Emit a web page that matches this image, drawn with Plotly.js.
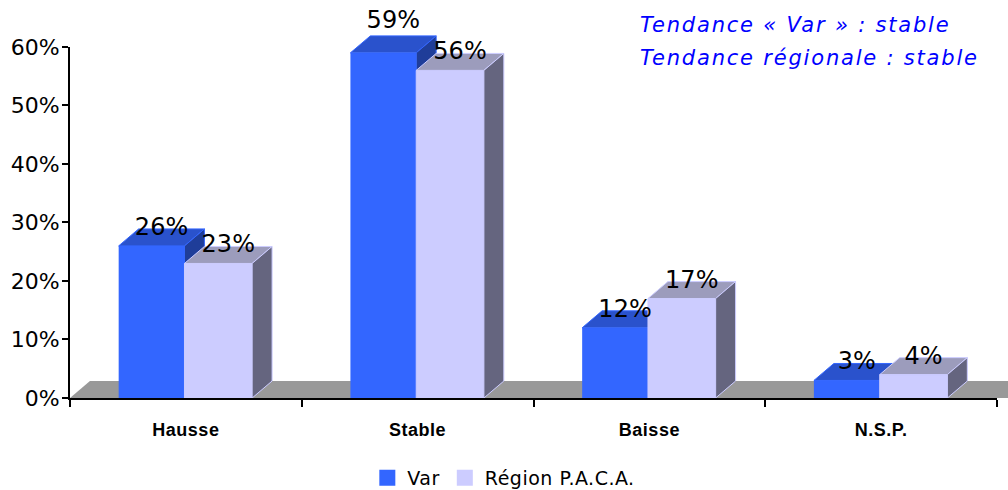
<!DOCTYPE html>
<html>
<head>
<meta charset="utf-8">
<script src="https://cdn.plot.ly/plotly-3.0.1.min.js"></script>
<style>
  html, body { margin: 0; padding: 0; background: #ffffff; }
  #chart { width: 1008px; height: 490px; }
  .annotation-text { letter-spacing: 1.8px; }
  .legendtext { letter-spacing: 0.5px; }
  .xtick text, text.xtick { letter-spacing: 0.5px; }
</style>
</head>
<body>
<div id="chart"></div>
<script>
// ---- data ----
const categories = ['Hausse', 'Stable', 'Baisse', 'N.S.P.'];
const varValues = [26, 59, 12, 3];
const regionValues = [23, 56, 17, 4];
const seriesNames = ['Var', 'Région P.A.C.A.'];
const yTickValues = [0, 10, 20, 30, 40, 50, 60];
const yTickLabels = ['0%', '10%', '20%', '30%', '40%', '50%', '60%'];
const titleLines = ['Tendance « Var » : stable', 'Tendance régionale : stable'];

// ---- style / geometry constants ----
const DX = 0.086;     // depth offset along x (category units)
const DY = 2.9;       // depth offset along y (value units)
const VAR_OFF = -0.29, VAR_W = 0.284;
const REG_OFF = -0.006, REG_W = 0.292;
const X_MAX = 3.5475;
const Y_MAX = 65.64;
const AXIS_TOP = 60;
const VAR_LABEL_NUDGE = [0, 2.4, 0, 0];   // label placement tweak (value units)

const catPos = categories.map((c, i) => i);

function faces(values, off, w) {
  const top = {x: [], y: []}, side = {x: [], y: []};
  values.forEach((v, i) => {
    const x0 = catPos[i] + off, x1 = x0 + w;
    top.x.push(x0, x0 + DX, x1 + DX, x1, x0, null);
    top.y.push(v, v + DY, v + DY, v, v, null);
    side.x.push(x1, x1 + DX, x1 + DX, x1, x1, null);
    side.y.push(0, DY, v + DY, v, 0, null);
  });
  return {top, side};
}

const vf = faces(varValues, VAR_OFF, VAR_W);
const rf = faces(regionValues, REG_OFF, REG_W);

const C = {
  varFront: '#3366FF', varTop: '#2a52cc', varSide: '#1f3d99', varEdge: '#3366FF',
  regFront: '#CCCCFF', regTop: '#9c9cbc', regSide: '#65657f', regEdge: '#CCCCFF'
};

function poly(f, fill, edge, xa, ya) {
  return {type: 'scatter', mode: 'lines', x: f.x, y: f.y, fill: 'toself',
    fillcolor: fill, line: {color: edge, width: 1}, xaxis: xa, yaxis: ya,
    hoverinfo: 'skip', showlegend: false};
}

const labelFont = {family: 'DejaVu Sans', size: 24, color: '#000000'};

const traces = [
  // Var (base subplot)
  {type: 'bar', x: catPos, y: varValues, offset: VAR_OFF, width: VAR_W, name: seriesNames[0],
   marker: {color: C.varFront, line: {width: 0}}, showlegend: false, xaxis: 'x', yaxis: 'y'},
  poly(vf.top, C.varTop, C.varEdge, 'x', 'y'),
  poly(vf.side, C.varSide, C.varEdge, 'x', 'y'),
  // legend entries
  {type: 'scatter', mode: 'markers', x: [null], y: [null], name: seriesNames[0],
   marker: {symbol: 'square', size: 18, color: C.varFront}, xaxis: 'x', yaxis: 'y'},
  {type: 'scatter', mode: 'markers', x: [null], y: [null], name: seriesNames[1],
   marker: {symbol: 'square', size: 18, color: C.regFront}, xaxis: 'x', yaxis: 'y'},
  // axis frame (x line with boundary ticks, y line with value ticks)
  {type: 'scatter', mode: 'none', x: [null], y: [null], xaxis: 'x2', yaxis: 'y2',
   showlegend: false, hoverinfo: 'skip'},
  // Region (overlay subplot, drawn above Var)
  {type: 'bar', x: catPos, y: regionValues, offset: REG_OFF, width: REG_W, name: seriesNames[1],
   marker: {color: C.regFront, line: {width: 1, color: C.regEdge}}, showlegend: false, xaxis: 'x3', yaxis: 'y3'},
  poly(rf.top, C.regTop, C.regEdge, 'x3', 'y3'),
  poly(rf.side, C.regSide, C.regEdge, 'x3', 'y3'),
  // data labels
  {type: 'scatter', mode: 'text', xaxis: 'x3', yaxis: 'y3', showlegend: false, hoverinfo: 'skip',
   x: varValues.map((v, i) => catPos[i] + VAR_OFF + VAR_W / 2 + DX / 2),
   y: varValues.map((v, i) => v + DY + VAR_LABEL_NUDGE[i]),
   text: varValues.map(v => v + '%'), textposition: 'middle center', textfont: labelFont, cliponaxis: false},
  {type: 'scatter', mode: 'text', xaxis: 'x3', yaxis: 'y3', showlegend: false, hoverinfo: 'skip',
   x: regionValues.map((v, i) => catPos[i] + REG_OFF + REG_W / 2 + DX / 2),
   y: regionValues.map(v => v + DY),
   text: regionValues.map(v => v + '%'), textposition: 'middle center', textfont: labelFont, cliponaxis: false}
];

const layout = {
  width: 1008, height: 490,
  margin: {l: 70, r: 0, t: 14, b: 92, pad: 0, autoexpand: false},
  paper_bgcolor: '#ffffff', plot_bgcolor: 'rgba(0,0,0,0)',
  showlegend: true,
  legend: {orientation: 'h', x: 0.4625, xanchor: 'center', y: -0.2083, yanchor: 'middle',
    font: {family: 'DejaVu Sans', size: 19, color: '#000000'}, bgcolor: 'rgba(0,0,0,0)'},
  xaxis: {range: [-0.5, X_MAX], domain: [0, 1], anchor: 'y', tickmode: 'array', tickvals: catPos, ticktext: categories,
    ticks: 'outside', ticklen: 15, tickcolor: 'rgba(0,0,0,0)', showline: false, showgrid: false, zeroline: false,
    tickfont: {family: 'Liberation Sans', size: 18, weight: 'bold', color: '#000000'}, fixedrange: true},
  yaxis: {range: [0, Y_MAX], domain: [0, 1], anchor: 'x', visible: false, fixedrange: true},
  xaxis2: {range: [-0.5, 3.5], domain: [0, 927 / 938], anchor: 'y2', tickmode: 'array',
    tickvals: catPos.map(p => p - 0.5).concat([catPos[catPos.length - 1] + 0.5]),
    ticks: 'outside', ticklen: 7, tickwidth: 2, tickcolor: '#000000', showticklabels: false,
    showline: true, linewidth: 2, linecolor: '#000000', showgrid: false, zeroline: false, fixedrange: true},
  yaxis2: {range: [0, AXIS_TOP], domain: [0, AXIS_TOP / Y_MAX], anchor: 'x2', tickmode: 'array',
    tickvals: yTickValues, ticktext: yTickLabels,
    ticks: 'outside', ticklen: 6, tickwidth: 2, tickcolor: '#000000', ticklabelstandoff: -2,
    showline: true, linewidth: 2, linecolor: '#000000', showgrid: false, zeroline: false,
    tickfont: {family: 'DejaVu Sans', size: 22, color: '#000000'}, fixedrange: true},
  xaxis3: {overlaying: 'x', range: [-0.5, X_MAX], visible: false, fixedrange: true},
  yaxis3: {overlaying: 'y', range: [0, Y_MAX], visible: false, fixedrange: true},
  shapes: [{type: 'path', xref: 'x', yref: 'y', layer: 'below',
    path: `M ${-0.5},0 L ${-0.5 + DX},${DY} L ${X_MAX + DX},${DY} L ${X_MAX + DX},0 Z`,
    fillcolor: '#999999', line: {width: 0}}],
  annotations: titleLines.map((t, i) => ({
    text: t, xref: 'paper', yref: 'paper', x: (638 - 70) / 938, xanchor: 'left',
    y: i === 0 ? 0.972 : 0.8867, yanchor: 'middle', showarrow: false,
    font: {family: 'DejaVu Sans', size: 21, style: 'italic', color: '#0000FF'}
  }))
};

Plotly.newPlot('chart', traces, layout, {displayModeBar: false, staticPlot: true});
</script>
</body>
</html>
